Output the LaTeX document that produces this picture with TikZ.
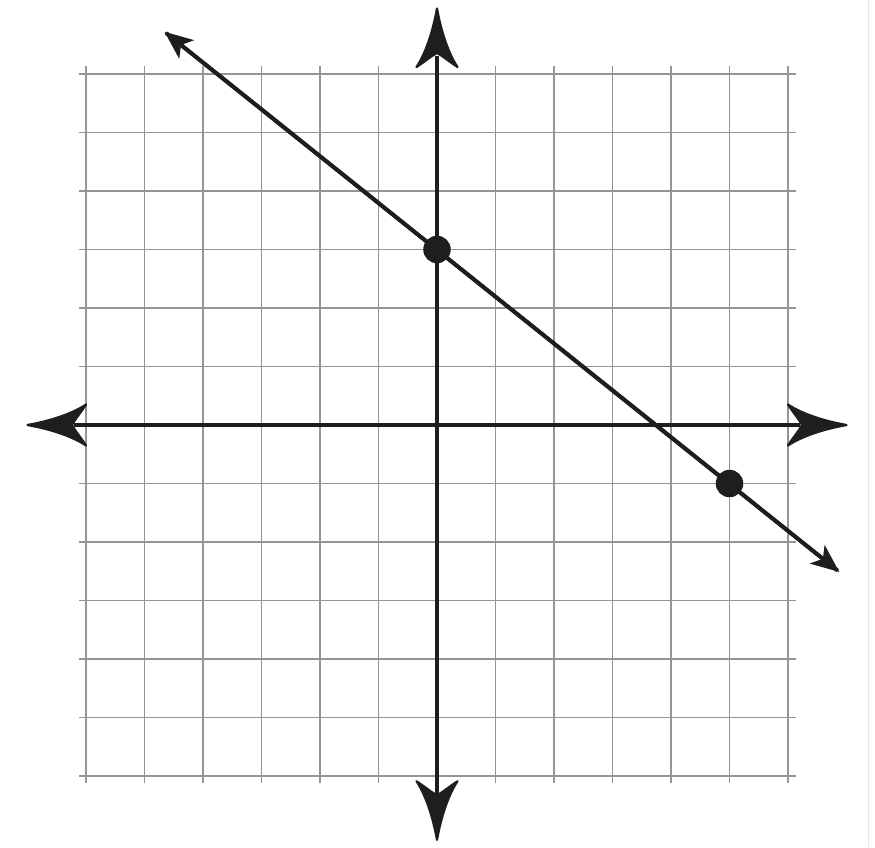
\documentclass[tikz,border=0pt]{standalone}
\usetikzlibrary{arrows.meta}
\definecolor{ink}{HTML}{1E1E1E}
\definecolor{gridc}{HTML}{959595}
\definecolor{edgec}{HTML}{E6E6E6}
\tikzset{
  gridline/.style={draw=gridc, line width=0.95pt},
  axisline/.style={draw=ink, line width=2pt},
  graphline/.style={draw=ink, line width=1.9pt, -{Stealth[length=0.48cm, width=0.4cm, inset=0.12cm]}, shorten >=-1pt},
  dotnode/.style={circle, fill=ink, minimum size=0.47cm, inner sep=0pt},
  axhead/.pic={
    \filldraw[ink, line width=1.1pt, line join=round]
      (0,0) .. controls (-0.4,0.07) and (-0.78,0.2) .. (-1,0.35)
      .. controls (-0.9,0.2) and (-0.8,0.08) .. (-0.76,0)
      .. controls (-0.8,-0.08) and (-0.9,-0.2) .. (-1,-0.35)
      .. controls (-0.78,-0.2) and (-0.4,-0.07) .. (0,0) -- cycle;
  }
}
\begin{document}
\begin{tikzpicture}
\useasboundingbox[fill=white] (-7.470,-7.214) rectangle (7.487,7.265);
% faint edge line
\draw[edgec, line width=0.6pt] (7.37,-7.214) -- (7.37,7.265);
% grid
\foreach \k in {-6,...,6} {
  \draw[gridline] (\k,-6.12) -- (\k,6.14);
  \draw[gridline] (-6.12,\k) -- (6.14,\k);
}
% axes
\coordinate (xl) at (-6.2,0);
\coordinate (xr) at (6.2,0);
\coordinate (yb) at (0,-6.3);
\coordinate (yt) at (0,6.3);
\draw[axisline] (xl) -- (xr);
\draw[axisline] (yb) -- (yt);
\pic at (7,0) {axhead};
\pic[rotate=180] at (-7,0) {axhead};
\pic[rotate=90] at (0,7.12) {axhead};
\pic[rotate=-90] at (0,-7.09) {axhead};
% line
\coordinate (la) at (-4.63,6.70);
\coordinate (lb) at (6.85,-2.49);
\draw[graphline] (lb) -- (la);
\draw[graphline] (la) -- (lb);
% points
\node[dotnode] (p1) at (0,3) {};
\node[dotnode] (p2) at (5,-1) {};
\end{tikzpicture}
\end{document}
